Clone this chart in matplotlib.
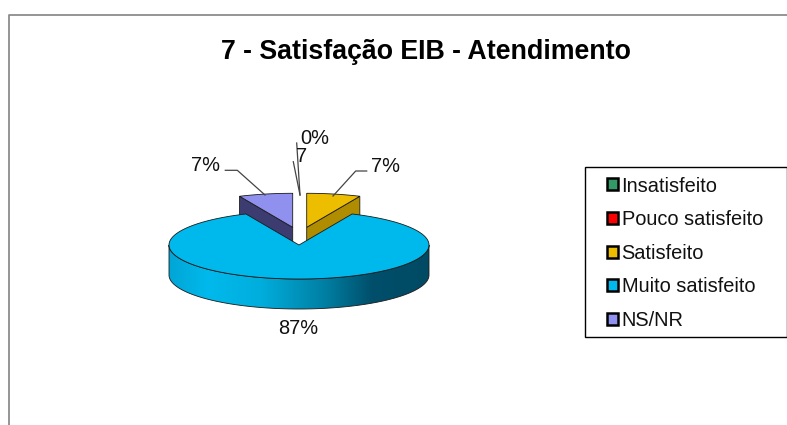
import numpy as np
import matplotlib
matplotlib.use("Agg")
import matplotlib.pyplot as plt
from matplotlib.colors import LinearSegmentedColormap
from matplotlib.patches import Polygon, Patch, Rectangle

categories = ["Insatisfeito", "Pouco satisfeito", "Satisfeito", "Muito satisfeito", "NS/NR"]
values = [0.0, 0.0, 6.7, 86.6, 6.7]
point_labels = ["0%", "7", "7%", "87%", "7%"]
colors = ["#339966", "#FF0000", "#EDBE00", "#00B9EC", "#9090EE"]
title = "7 - Satisfação EIB - Atendimento"

plt.rcParams["font.family"] = ["Liberation Sans", "DejaVu Sans"]
fig = plt.figure(figsize=(7.87, 4.25), dpi=100)
ax = fig.add_axes([0, 0, 1, 1])
ax.set_xlim(0, 787)
ax.set_ylim(425, 0)
ax.axis("off")

cx, cy, ra, rb, depth = 299, 245, 130, 34, 30
offsets = [(0, 0), (0, 0), (7.7, -17.7), (0, 0), (-6.3, -17.7)]
side_colors = {2: "#B08C00", 4: "#3C3C70"}
edge = "#1A1A1A"

ang = np.concatenate([[0], np.cumsum(values)]) / sum(values) * 2 * np.pi


def pt(t, ox=0, oy=0):
    return cx + ox + ra * np.sin(t), cy + oy - rb * np.cos(t)


def sector(i):
    ts = np.linspace(ang[i], ang[i + 1], 200)
    ox, oy = offsets[i]
    x, y = pt(ts, ox, oy)
    return np.r_[cx + ox, x], np.r_[cy + oy, y]


# exploded wedges: radial side wall and top face
for i, rad_edge in ((2, ang[3]), (4, ang[4])):
    ox, oy = offsets[i]
    ex, ey = pt(rad_edge, ox, oy)
    ax.add_patch(Polygon([(cx + ox, cy + oy), (ex, ey), (ex, ey + depth), (cx + ox, cy + oy + depth)],
                         fc=side_colors[i], ec=edge, lw=0.6, zorder=2))
    x, y = sector(i)
    ax.add_patch(Polygon(np.c_[x, y], fc=colors[i], ec=edge, lw=0.6, zorder=3))

# main wedge side wall with gradient
ts = np.linspace(np.pi / 2, 3 * np.pi / 2, 300)
x, y = pt(ts)
wall = Polygon(np.r_[np.c_[x, y], np.c_[x[::-1], y[::-1] + depth]], fc="none", ec=edge, lw=0.6, zorder=5)
ax.add_patch(wall)
cmap = LinearSegmentedColormap.from_list("wall", [(0, "#00A6D6"), (0.15, "#00B9EC"), (0.35, "#00AEDD"),
                                                  (0.6, "#007FA3"), (0.78, "#004F6B"), (1, "#004A64")])
img = ax.imshow(np.linspace(0, 1, 256)[None, :], extent=(cx - ra, cx + ra, cy + rb + depth, cy),
                cmap=cmap, aspect="auto", zorder=4)
img.set_clip_path(Polygon(np.r_[np.c_[x, y], np.c_[x[::-1], y[::-1] + depth]], transform=ax.transData))
ax.set_xlim(0, 787)
ax.set_ylim(425, 0)

# main wedge top face
x, y = sector(3)
ax.add_patch(Polygon(np.c_[x, y], fc=colors[3], ec=edge, lw=0.6, zorder=6))

# leader lines
leaders = [[(300, 195), (296.7, 143)], [(300, 195), (293.3, 161.7)],
           [(333, 196), (355.7, 171), (366.7, 171)], [(265, 195), (237.3, 170.3), (225.3, 170.3)]]
for seg in leaders:
    sx, sy = zip(*seg)
    ax.plot(sx, sy, color="#444444", lw=0.9, zorder=7)

# data labels
label_pos = [(315, 139), (302, 157), (386, 166.5), (205, 165.5), (298, 328.5)]
label_order = [0, 1, 2, 4, 3]
for (lx, ly), k in zip(label_pos, label_order):
    ax.text(lx, ly, point_labels[k], ha="center", va="center", fontsize=14.4, color="#111111", zorder=8)

ax.text(426, 51.5, title, ha="center", va="center", fontsize=19.3, fontweight="bold", color="black")

# outer chart border (top and left only visible)
ax.plot([8.5, 8.5, 787], [425, 14.5, 14.5], color="#8C8C8C", lw=1.3)

# legend frame and legend
ax.add_patch(Rectangle((585, 167), 201.5, 170, fc="white", ec="black", lw=1.0, zorder=8.5))
handles = [Patch(fc=c, ec="black", lw=1.8) for c in colors]
leg = ax.legend(handles, categories, loc="upper left", bbox_to_anchor=(606.5, 176.5), bbox_transform=ax.transData,
                fontsize=14.4, frameon=False,
                handlelength=0.55, handleheight=0.55, handletextpad=0.2,
                labelspacing=0.73, borderpad=0, borderaxespad=0, labelcolor="#111111")
leg.set_zorder(9)

fig.savefig("out.png", dpi=100, facecolor="white")
